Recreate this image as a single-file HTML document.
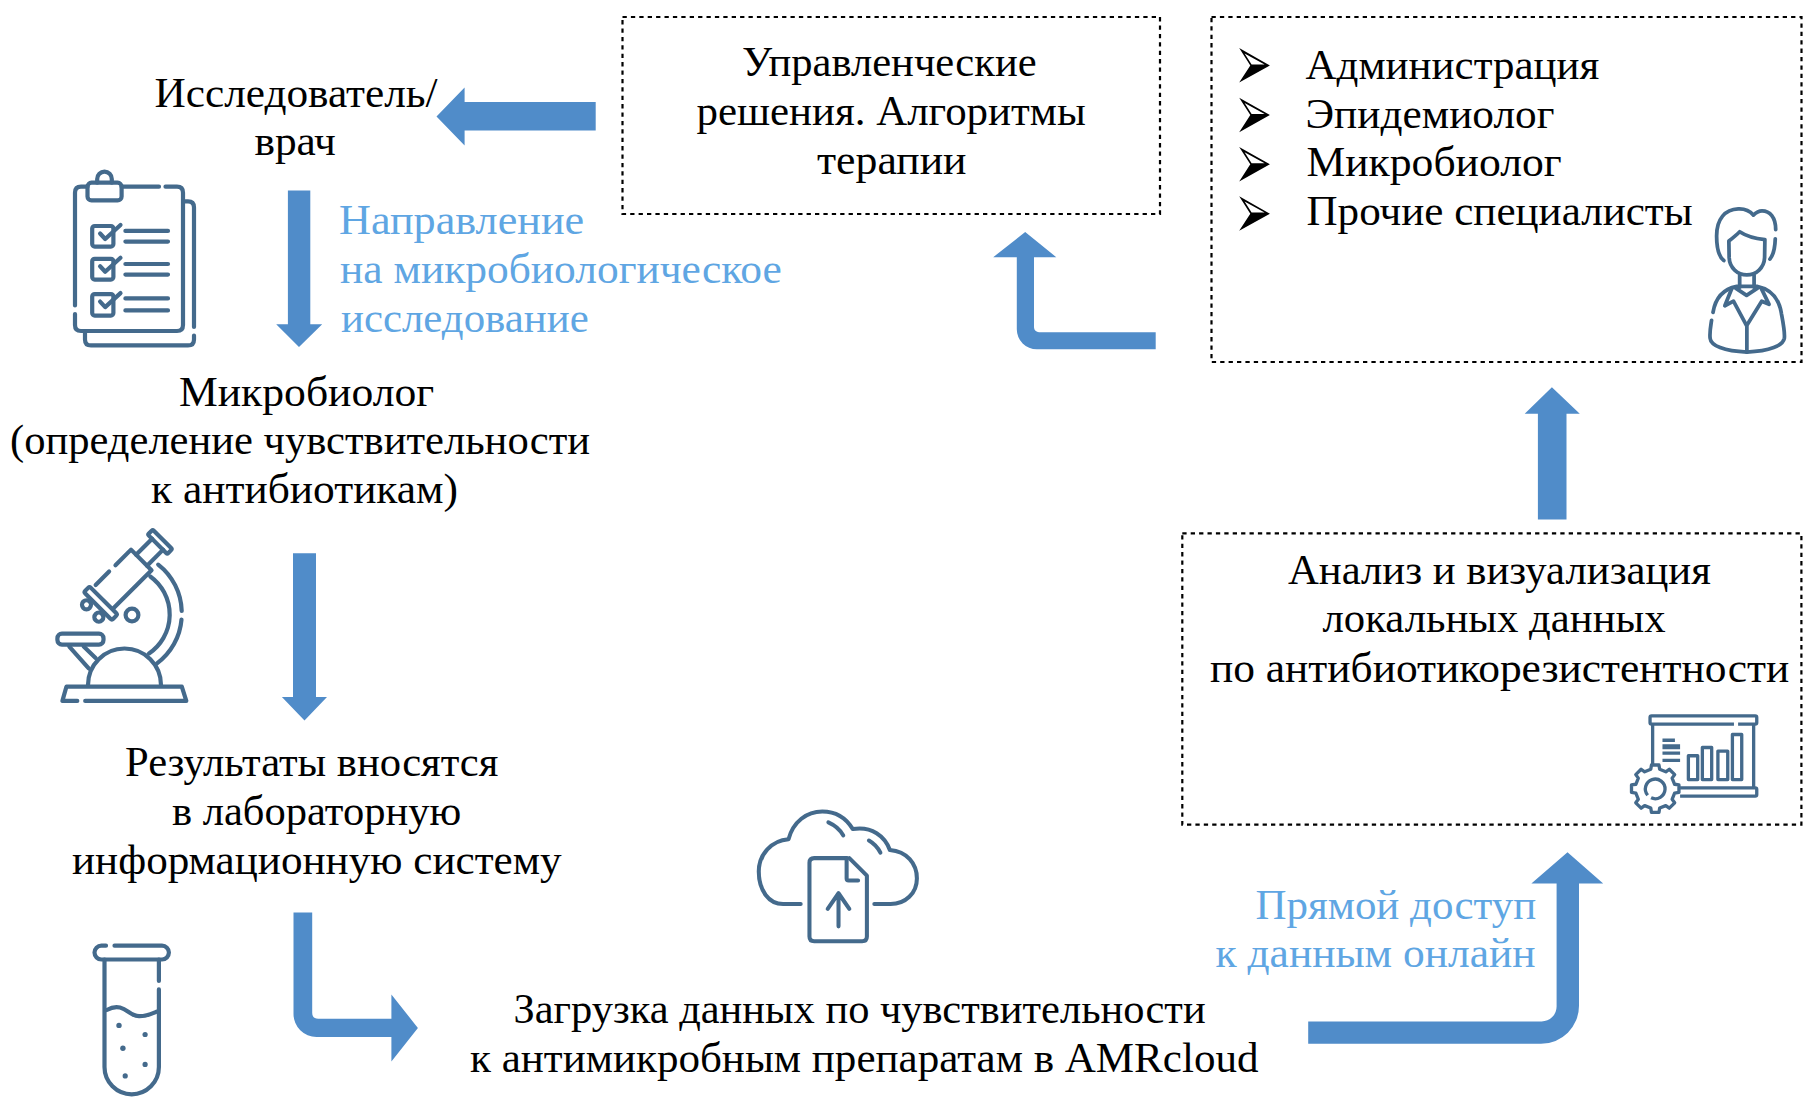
<!DOCTYPE html>
<html><head><meta charset="utf-8">
<style>
html,body{margin:0;padding:0;background:#fff;width:1816px;height:1110px;overflow:hidden}
svg{position:absolute;left:0;top:0}
.t{font-family:"Liberation Serif",serif;font-size:43px;fill:#000}
.b{fill:#5fa6e3}
</style></head><body>
<svg width="1816" height="1110" viewBox="0 0 1816 1110">
<!-- dashed boxes -->
<g fill="none" stroke="#000" stroke-width="2.2" stroke-dasharray="4.3 4.1">
<rect x="622.5" y="17" width="537.5" height="197"/>
<rect x="1211.5" y="17" width="590" height="345"/>
<rect x="1182.3" y="533.4" width="619.1" height="291.2"/>
</g>
<!-- arrows -->
<g fill="#508cc9">
<polygon points="436.5,116.5 464.6,87.6 464.6,102 595.7,102 595.7,130.6 464.6,130.6 464.6,145.4"/>
<polygon points="287.9,190.5 310.3,190.5 310.3,324.3 322.2,324.3 299,347 276.2,324.3 287.9,324.3"/>
<polygon points="293,553.3 316,553.3 316,697 327,697 304.5,720.5 281.9,697 293,697"/>
<path d="M293.5,912.6 L312.2,912.6 L312.2,1012.7 Q312.2,1018.7 318.2,1018.7 L391.4,1018.7 L391.4,994.6 L417.9,1027.9 L391.4,1061.6 L391.4,1037 L316.5,1037 A23,23 0 0 1 293.5,1014 Z"/>
<path d="M1308.2,1021.4 L1541.6,1021.4 A15,15 0 0 0 1556.6,1006.4 L1556.6,883.6 L1531.4,883.6 L1567.5,852.3 L1603.2,883.6 L1579,883.6 L1579,1005.8 A38,38 0 0 1 1541,1043.8 L1308.2,1043.8 Z"/>
<polygon points="1537.9,519.5 1537.9,413.8 1524.7,413.8 1551.9,387.3 1579.8,413.8 1566.5,413.8 1566.5,519.5"/>
<path d="M1155.7,332.2 L1039,332.2 A5,5 0 0 1 1034,327.2 L1034,257.2 L1056.3,257.2 L1025.2,232 L993.2,257.2 L1016.8,257.2 L1016.8,329.3 A20,20 0 0 0 1036.8,349.3 L1155.7,349.3 Z"/>
</g>

<!-- icons -->
<g fill="none" stroke="#446a8c" stroke-width="4.2" stroke-linecap="round" stroke-linejoin="round">
<!-- clipboard -->
<path d="M165.5,186.7 L177,186.7 Q183,186.7 183,192.7 L183,325 Q183,331 177,331 L81,331 Q75,331 75,325 L75,314 M75,305.5 L75,192.7 Q75,186.7 81,186.7 L87.5,186.7 M121.6,186.7 L159,186.7"/>
<rect x="87.5" y="182.7" width="34.1" height="17.7" rx="4"/>
<path d="M97.2,182.7 L97.2,178.9 A7.3,7.3 0 0 1 111.8,178.9 L111.8,182.7"/>
<path d="M183,201.4 L188,201.4 Q194,201.4 194,207.4 L194,327 M194,335.5 L194,339.4 Q194,345.4 188,345.4 L91,345.4 Q85,345.4 85,339.4 L85,331"/>
<rect x="92.2" y="226" width="21.2" height="20.6" rx="2.5"/>
<path d="M100.1,233.5 L105.2,239.0 L120.5,225.0"/>
<path d="M125.4,230.9 L168,230.9 M125.4,241.6 L168,241.6"/>
<rect x="92.2" y="258.8" width="21.2" height="20.8" rx="2.5"/>
<path d="M100.1,266.3 L105.2,271.8 L120.5,257.8"/>
<path d="M125.4,264 L168,264 M125.4,274.6 L168,274.6"/>
<rect x="92.2" y="294.1" width="21.2" height="21.5" rx="2.5"/>
<path d="M100.1,301.6 L105.2,307.1 L120.5,293.1"/>
<path d="M125.4,298.4 L168,298.4 M125.4,310.4 L168,310.4"/>


<!-- microscope -->
<path d="M85.2,700.9 L186.3,700.9 L181.8,686.7 L66.4,686.7 L62.4,700.9 L77.3,700.9"/>
<path d="M88,685 A36.5,36.5 0 0 1 161,685"/>
<rect x="57.4" y="633.7" width="46.1" height="10.9" rx="4.5"/>
<path d="M69.3,646.6 L88.7,668.4 M83.7,646.6 L95.6,658"/>
<path d="M150.3,576.5 A47,47 0 0 1 149,653.5"/>
<path d="M158.2,564.6 A61,61 0 0 1 181.7,611 M181.5,619.5 A61,61 0 0 1 157,663.4"/>
<circle cx="132" cy="615" r="6.4"/>
<g transform="rotate(-45)">
<circle cx="-366.5" cy="488.8" r="4.5"/>
<circle cx="-366.5" cy="506.3" r="4.5"/>
<path d="M-352,510.3 L-296,510.3 L-296,481.3 L-318,481.3 M-327,481.3 L-346,481.3"/>
<rect x="-359.4" y="478" width="8" height="39.6" rx="2" fill="#fff"/>
<rect x="-273.5" y="482.5" width="7" height="27.5" rx="1.5"/>
<path d="M-296,488.5 L-273.3,488.5 M-296,504 L-273.3,504"/>

</g>

<!-- test tube -->
<path d="M114.5,945.7 L162,945.7 A6.9,6.9 0 0 1 162,959.5 L101.4,959.5 A6.9,6.9 0 0 1 101.4,945.7 L106,945.7"/>
<path d="M104.5,959.5 L104.5,1067.1 A27.2,27.2 0 0 0 158.9,1067.1 L158.9,989.4 M158.9,980.9 L158.9,959.5"/>
<path d="M106.8,1010 C112,1007 116,1006.5 120,1007.5 C128,1009.5 131,1016 139,1016.2 C147,1016.4 152,1013.5 156.6,1011.6"/>
</g>
<g fill="#446a8c">
<circle cx="119" cy="1025.4" r="2.7"/><circle cx="145.1" cy="1034.5" r="2.6"/><circle cx="122.9" cy="1048.3" r="2.7"/><circle cx="145.1" cy="1064.4" r="2.6"/><circle cx="125.2" cy="1075.9" r="2.6"/>
</g>

<!-- cloud -->
<g transform="translate(750,800) scale(0.13514)" fill="none" stroke="#446a8c" stroke-width="30" stroke-linecap="round" stroke-linejoin="round">
<path d="M375,770 L245,770 C140,770 65,670 65,530 C65,400 160,300 285,290 C320,160 420,85 535,85 C640,85 715,140 760,215 C900,190 1000,270 1035,370 C1160,380 1235,470 1235,580 C1235,690 1150,770 1040,770 L920,770"/>
<path d="M580,165 C625,185 665,215 690,262"/>
<path d="M880,300 C915,320 945,350 965,390"/>
<path d="M715,430 L475,430 Q440,430 440,465 L440,1010 Q440,1045 475,1045 L830,1045 Q865,1045 865,1010 L865,560 L735,430"/>
<path d="M715,430 L715,580 Q715,595 730,595 L800,595"/>
<path d="M655,935 L655,690 M575,805 L655,690 L735,805"/>
</g>

<!-- person -->
<g transform="translate(1695,200) scale(0.1441)" fill="none" stroke="#446a8c" stroke-width="26" stroke-linecap="round" stroke-linejoin="round">
<path d="M520,410 C545,380 555,330 557,270 M560,205 C560,120 520,75 465,75 C440,75 420,90 405,105 C380,75 340,60 300,62 C210,65 150,130 150,250 C150,330 160,390 200,420"/>
<path d="M235,285 L237,400 C240,470 295,520 360,520 C425,520 480,470 483,400 L485,275 C440,270 370,260 310,220 C290,240 260,265 235,285 Z"/>
<path d="M310,520 L310,605 M410,520 L410,605"/>
<path d="M125,780 C140,690 190,620 290,600 L430,600 C530,620 585,690 600,790 C615,870 625,920 620,960 C610,1010 520,1050 360,1055 C200,1050 110,1010 105,960 C100,920 108,880 115,835"/>
<path d="M256,612 L207,734 L267,702 L358,872 L463,702 L514,724 L459,612"/>
<path d="M282,612 L358,662 L434,612"/>
<path d="M360,880 L360,1055"/>
</g>

<!-- board + gear -->
<g transform="translate(1620,705) scale(0.1036)" fill="none" stroke="#446a8c" stroke-width="32" stroke-linecap="butt" stroke-linejoin="round">
<path d="M1100,185 L305,185 Q290,185 290,170 L290,120 Q290,105 305,105 L1305,105 Q1320,105 1320,120 L1320,170 Q1320,185 1305,185 L1140,185"/>
<path d="M315,185 L315,580 M1290,185 L1290,800"/>
<path d="M580,800 L1305,800 Q1320,800 1320,815 L1320,865 Q1320,880 1305,880 L580,880"/>
<path d="M410,340 L530,340 M410,395 L580,395 M410,410 L580,410 M410,465 L580,465 M410,535 L580,535"/>
<rect x="660" y="490" width="90" height="230"/>
<rect x="795" y="410" width="90" height="310"/>
<rect x="945" y="445" width="95" height="275"/>
<rect x="1085" y="285" width="90" height="435"/>
<path fill="#fff" d="M297,621 L304,579 L376,579 L383,621 L442,645 L476,620 L528,672 L503,706 L527,765 L569,772 L569,844 L527,851 L503,910 L528,944 L476,996 L442,971 L383,995 L376,1037 L304,1037 L297,995 L238,971 L204,996 L152,944 L177,910 L153,851 L111,844 L111,772 L153,765 L177,706 L152,672 L204,620 L238,645 Z"/>
<path d="M267.2,871 A95,95 0 1 1 299.9,896"/>
</g>

<!-- bullets -->
<g id="bul"><path d="M1239.2,48.1 L1269.9,65.5 L1239.2,82.6 L1250.3,65.5 Z M1244.6,53.4 L1264.6,64.4 L1251.6,64.4 Z" fill="#000" fill-rule="evenodd"/></g>
<use href="#bul" y="49.6"/>
<use href="#bul" y="98.8"/>
<use href="#bul" y="148.2"/>

<!-- text -->
<text class="t" x="154.50" y="106.9" textLength="282.99" lengthAdjust="spacingAndGlyphs">Исследователь/</text>
<text class="t" x="254.50" y="154.7" textLength="81.40" lengthAdjust="spacingAndGlyphs">врач</text>
<text class="t" x="742.00" y="75.9" textLength="294.62" lengthAdjust="spacingAndGlyphs">Управленческие</text>
<text class="t" x="696.50" y="124.5" textLength="389.28" lengthAdjust="spacingAndGlyphs">решения. Алгоритмы</text>
<text class="t" x="817.00" y="173.7" textLength="149.54" lengthAdjust="spacingAndGlyphs">терапии</text>
<text class="t" x="1305.50" y="78.5" textLength="293.77" lengthAdjust="spacingAndGlyphs">Администрация</text>
<text class="t" x="1305.50" y="127.8" textLength="248.93" lengthAdjust="spacingAndGlyphs">Эпидемиолог</text>
<text class="t" x="1306.50" y="176" textLength="255.16" lengthAdjust="spacingAndGlyphs">Микробиолог</text>
<text class="t" x="1306.50" y="224.5" textLength="386.13" lengthAdjust="spacingAndGlyphs">Прочие специалисты</text>
<text class="t b" x="339.00" y="234" textLength="245.16" lengthAdjust="spacingAndGlyphs">Направление</text>
<text class="t b" x="340.00" y="282.7" textLength="441.68" lengthAdjust="spacingAndGlyphs">на микробиологическое</text>
<text class="t b" x="341.00" y="331.6" textLength="247.67" lengthAdjust="spacingAndGlyphs">исследование</text>
<text class="t" x="179.00" y="405.8" textLength="255.16" lengthAdjust="spacingAndGlyphs">Микробиолог</text>
<text class="t" x="10.00" y="453.9" textLength="580.02" lengthAdjust="spacingAndGlyphs">(определение чувствительности</text>
<text class="t" x="151.00" y="502.8" textLength="307.03" lengthAdjust="spacingAndGlyphs">к антибиотикам)</text>
<text class="t" x="1288.00" y="583.8" textLength="422.84" lengthAdjust="spacingAndGlyphs">Анализ и визуализация</text>
<text class="t" x="1322.50" y="632.4" textLength="343.07" lengthAdjust="spacingAndGlyphs">локальных данных</text>
<text class="t" x="1210.00" y="681.8" textLength="579.14" lengthAdjust="spacingAndGlyphs">по антибиотикорезистентности</text>
<text class="t" x="125.00" y="775.8" textLength="373.33" lengthAdjust="spacingAndGlyphs">Результаты вносятся</text>
<text class="t" x="172.00" y="824.5" textLength="289.31" lengthAdjust="spacingAndGlyphs">в лабораторную</text>
<text class="t" x="72.00" y="873.8" textLength="489.54" lengthAdjust="spacingAndGlyphs">информационную систему</text>
<text class="t" x="513.50" y="1023" textLength="692.14" lengthAdjust="spacingAndGlyphs">Загрузка данных по чувствительности</text>
<text class="t" x="470.00" y="1071.7" textLength="788.48" lengthAdjust="spacingAndGlyphs">к антимикробным препаратам в AMRcloud</text>
<text class="t b" x="1255.50" y="918.7" textLength="280.68" lengthAdjust="spacingAndGlyphs">Прямой доступ</text>
<text class="t b" x="1215.50" y="966.9" textLength="319.96" lengthAdjust="spacingAndGlyphs">к данным онлайн</text>
</svg>
</body></html>
